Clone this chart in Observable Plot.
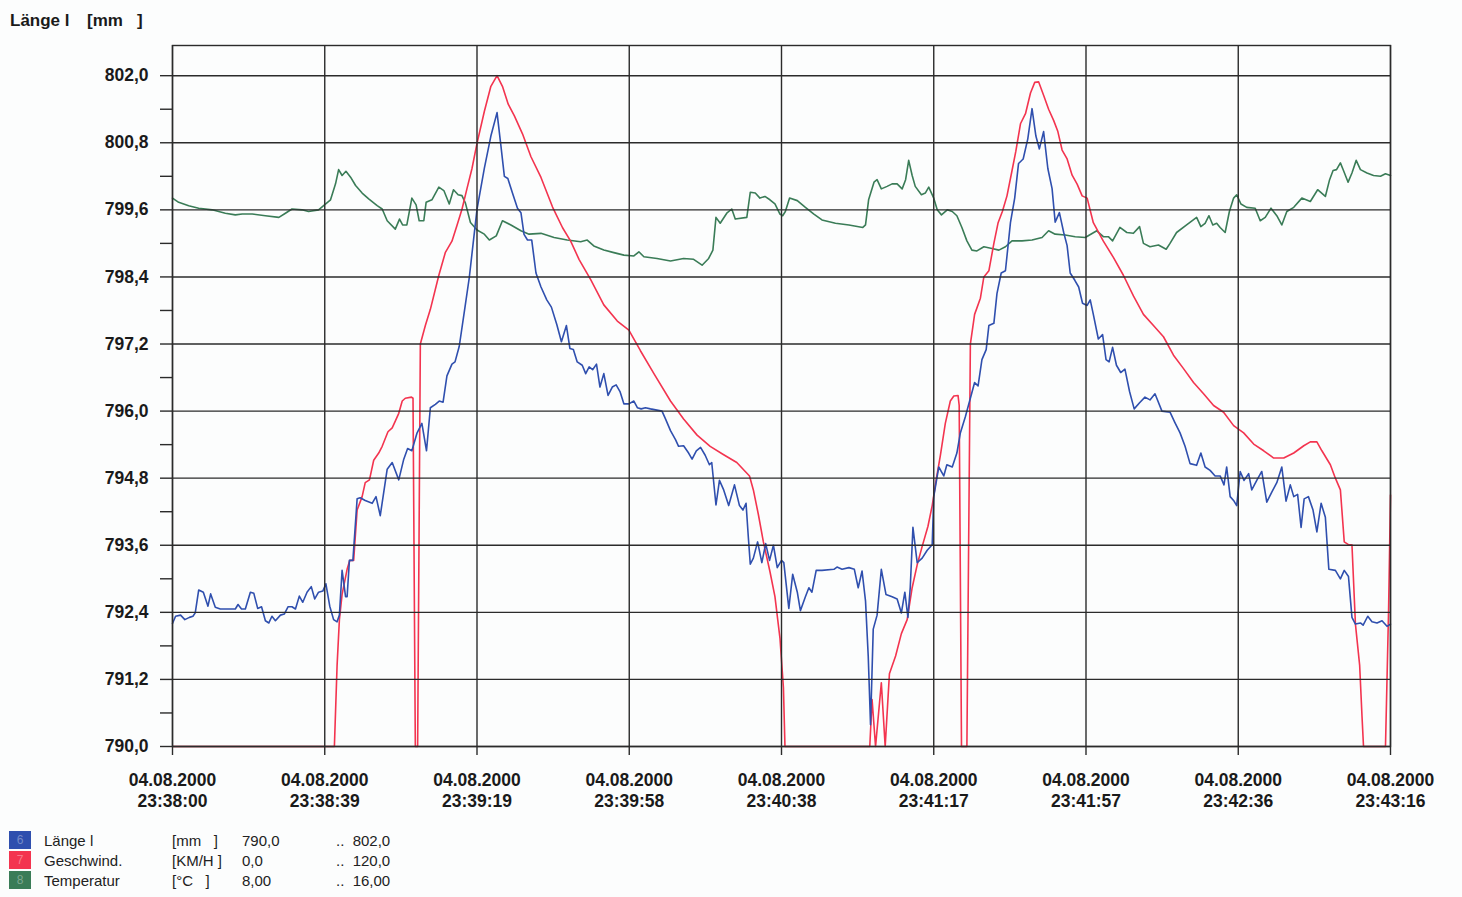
<!DOCTYPE html>
<html>
<head>
<meta charset="utf-8">
<script src="https://cdn.jsdelivr.net/npm/d3@7"></script>
<script src="https://cdn.jsdelivr.net/npm/@observablehq/plot@0.6"></script>
<style>
  body { margin: 0; background: #fcfdfd; font-family: "Liberation Sans", Arial, sans-serif; }
  #wrap { position: relative; width: 1462px; height: 897px; overflow: hidden; }
  #chart { position: absolute; left: 0; top: 0; }
  .title { position: absolute; top: 11px; font-weight: bold; font-size: 17px; color: #1a1a1a; white-space: pre; }
  .leg { position: absolute; font-size: 15px; color: #222; white-space: pre; line-height: 20px; }
  .sw { position: absolute; left: 9px; width: 22px; height: 18px; color: rgba(255,255,255,0.35); font-size: 12px; line-height: 18px; text-align: center; }
</style>
</head>
<body>
<div id="wrap">
  <div id="chart"></div>
  <div class="title" style="left:10px">Länge l</div>
  <div class="title" style="left:87px">[mm</div>
  <div class="title" style="left:137px">]</div>
  <div id="legend"></div>
</div>
<script>
// ---- axis ticks ----
const xTicks = [0, 39.5, 79, 118.5, 158, 197.5, 237, 276.5, 316];
const xDate = "04.08.2000";
const xTickLabels = ["23:38:00", "23:38:39", "23:39:19", "23:39:58", "23:40:38", "23:41:17", "23:41:57", "23:42:36", "23:43:16"];
const yTicks = [790.0, 791.2, 792.4, 793.6, 794.8, 796.0, 797.2, 798.4, 799.6, 800.8, 802.0];
const yMinorTicks = [790.6, 791.8, 793.0, 794.2, 795.4, 796.6, 797.8, 799.0, 800.2, 801.4];
const yTop = 802.54;

// ---- legend ----
const seriesNames = ["Länge l", "Geschwind.", "Temperatur"];
const seriesUnits = ["[mm   ]", "[KM/H ]", "[°C   ]"];
const seriesMinLabels = ["790,0", "0,0", "8,00"];
const seriesMaxLabels = ["802,0", "120,0", "16,00"];
const seriesMin = [790, 0, 8];
const seriesMax = [802, 120, 16];
const seriesNums = ["6", "7", "8"];
const seriesColors = ["#2f4fae", "#f3344f", "#3a7c57"];

// ---- Länge l [mm] : time in seconds after 23:38:00 ----
const lengthT = [0,0.8,2.1,3.2,4.4,5.3,5.9,6.8,8.0,9.2,9.9,11.1,12.4,16.3,17.0,17.9,18.9,20.2,21.1,22.1,23.1,24.1,25.0,25.8,26.7,28.0,29.0,30.0,31.0,31.9,32.9,33.8,34.9,36.0,36.9,37.9,39.0,39.8,40.8,41.8,42.7,43.3,44.0,44.9,45.3,45.9,46.8,47.9,48.7,50.0,51.8,52.8,53.9,55.7,57.0,58.7,60.0,61.0,62.1,63.4,64.7,65.9,66.9,68.2,69.2,70.2,71.2,72.5,73.3,74.4,75.8,77.0,79.0,80.9,82.6,84.2,85.2,86.1,87.0,88.2,89.5,90.4,91.2,92.1,93.2,94.3,95.6,97.1,98.3,99.7,100.9,102.2,103.1,104.0,105.0,106.3,107.2,108.1,109.0,110.0,110.9,111.9,113.0,114.1,115.1,116.1,117.1,118.4,119.7,120.6,121.6,122.7,124.0,127.0,127.9,129.2,130.5,131.3,132.6,133.9,134.8,135.9,137.0,138.2,139.3,139.9,141.0,141.9,143.0,144.3,145.8,147.1,148.0,148.8,149.4,149.9,150.7,151.8,152.9,153.9,154.9,155.9,156.9,158.0,158.6,159.9,160.9,162.1,162.9,164.2,165.1,165.9,167.0,168.5,171.6,172.4,173.7,175.5,176.9,177.9,178.9,179.8,180.5,181.1,181.8,182.8,183.9,185.1,186.7,188.0,189.1,190.0,190.8,191.4,192.1,193.2,194.5,195.8,197.1,197.5,198.8,200.1,200.9,202.3,203.5,204.4,205.7,207.0,208.1,209.0,210.0,211.1,211.8,213.1,213.9,215.0,216.1,217.4,218.5,219.5,220.7,221.9,223.0,224.0,224.9,226.0,227.1,228.2,229.0,230.1,231.2,232.1,232.9,234.1,235.1,236.1,237.3,238.1,238.9,240.2,241.3,242.2,243.0,243.9,244.9,246.0,247.1,248.3,249.5,250.9,252.3,253.6,254.9,256.7,258.8,260.1,261.4,262.7,264.0,265.7,266.8,267.9,269.2,270.5,271.8,272.8,273.5,274.4,275.4,276.1,277.0,278.0,279.2,280.0,281.3,282.6,283.9,285.2,286.5,287.8,288.9,290.0,290.9,291.9,292.8,293.6,294.7,295.9,296.9,298.0,299.1,300.0,301.7,303.0,304.0,305.1,306.0,306.9,308.2,308.9,310.1,311.2,312.5,313.8,315.1,316.0];
const lengthMM = [792.20,792.33,792.35,792.27,792.31,792.33,792.39,792.80,792.76,792.51,792.73,792.49,792.46,792.46,792.54,792.46,792.46,792.76,792.74,792.47,792.50,792.25,792.21,792.33,792.25,792.35,792.37,792.50,792.50,792.46,792.69,792.58,792.76,792.86,792.64,792.76,792.78,792.91,792.51,792.27,792.23,792.35,793.15,792.68,792.68,793.33,793.33,794.43,794.45,794.40,794.35,794.47,794.13,794.96,795.08,794.77,795.14,795.33,795.29,795.60,795.78,795.29,796.06,796.12,796.18,796.16,796.63,796.84,796.88,797.16,797.82,798.39,799.61,800.34,800.92,801.34,800.75,800.20,800.16,799.90,799.63,799.55,799.16,799.06,799.06,798.47,798.22,797.99,797.86,797.55,797.24,797.53,797.12,797.10,796.88,796.82,796.67,796.79,796.74,796.84,796.43,796.67,796.28,796.43,796.47,796.35,796.13,796.13,796.18,796.06,796.04,796.06,796.04,796.00,795.86,795.65,795.49,795.37,795.38,795.25,795.14,795.29,795.35,795.21,795.04,795.08,794.32,794.76,794.59,794.31,794.68,794.31,794.23,794.35,793.74,793.26,793.37,793.66,793.29,793.63,793.33,793.60,793.20,793.33,793.29,792.47,793.08,792.76,792.43,792.68,792.84,792.76,793.15,793.15,793.17,793.21,793.17,793.20,793.17,792.84,793.14,792.60,791.62,790.39,792.10,792.35,793.17,792.72,792.68,792.64,792.39,792.76,792.31,792.84,793.92,793.29,793.37,793.51,793.61,794.47,795.00,794.84,795.04,795.00,795.25,795.61,795.90,796.23,796.51,796.45,796.92,797.10,797.53,797.57,798.10,798.47,798.51,799.37,799.81,800.43,800.51,800.87,801.41,800.92,800.69,801.00,800.34,799.98,799.38,799.55,799.20,798.96,798.47,798.34,798.22,797.93,797.89,797.99,797.73,797.29,797.37,796.92,796.88,797.14,796.82,796.69,796.75,796.35,796.04,796.15,796.25,796.20,796.31,796.00,795.98,795.79,795.61,795.37,795.06,795.03,795.25,795.00,794.94,794.84,794.84,794.68,795.00,794.47,794.39,794.31,794.92,794.76,794.88,794.59,794.76,794.92,794.37,794.55,794.72,795.00,794.39,794.68,794.47,794.51,793.92,794.43,794.47,794.23,793.84,794.35,794.10,793.17,793.15,793.00,793.15,793.04,792.31,792.19,792.21,792.17,792.33,792.23,792.21,792.25,792.15,792.19];

// ---- Geschwind. [KM/H] ----
const speedT = [0,42.0,42.7,43.3,44.0,45.3,46.0,47.0,47.9,49.2,50.0,51.1,52.2,53.5,54.4,55.9,57.0,57.8,58.7,59.6,60.4,62.0,62.4,63.0,63.6,64.3,65.6,66.9,69.1,70.8,72.5,73.8,75.1,76.4,77.7,79.0,80.9,82.6,84.2,85.6,87.1,88.7,90.8,93.0,95.6,98.6,101.2,103.3,105.5,108.5,111.9,115.4,118.4,121.4,124.9,129.2,132.6,136.1,139.5,143.0,146.4,149.7,150.7,152.0,153.3,155.0,156.3,157.6,158.5,158.9,180.9,181.5,182.4,183.9,184.9,186.0,187.6,189.1,190.6,191.9,193.2,194.5,196.0,197.1,198.1,199.2,200.5,201.8,202.7,203.8,204.1,204.7,206.1,207.0,208.1,209.6,210.5,211.8,213.1,214.2,215.3,216.5,217.8,218.8,220.0,221.3,222.6,223.7,224.7,226.0,227.3,228.6,229.7,230.8,232.1,233.4,234.7,236.0,237.3,238.9,241.5,244.1,246.7,249.3,251.9,254.5,257.1,259.7,262.3,264.9,267.5,270.1,272.7,275.3,277.9,280.5,283.1,285.7,288.3,290.9,293.5,295.2,296.9,298.2,300.4,301.7,303.0,304.0,305.1,306.0,306.9,308.0,308.6,309.0,314.7,315.5,316.0];
const speedKmh = [0,0,14.5,22.7,27.2,31.7,33.3,33.3,42.3,44.7,47.2,47.7,51.2,52.5,53.7,56.3,57.0,58.2,59.6,61.8,62.3,62.5,62.3,0,0,72.0,75.3,78.2,84.3,88.4,90.4,93.2,96.1,99.8,103.4,107.9,113.6,118.1,120.0,118.1,114.9,112.8,109.6,105.5,101.8,96.5,92.8,90.4,87.1,83.5,79.0,76.1,74.5,70.8,66.7,61.8,58.6,55.7,53.7,52.2,50.8,48.4,45.9,41.5,36.6,31.3,26.8,19.4,10.5,0,0,8.4,0,11.4,0,13.0,16.2,20.2,22.7,28.4,32.5,35.8,39.4,43.1,47.6,52.0,57.8,61.8,62.7,62.8,61.0,0,0,72.0,77.3,80.2,84.0,85.1,90.0,93.7,95.7,98.5,103.0,106.5,111.4,113.2,116.9,118.8,118.9,116.5,114.0,112.0,110.0,106.7,105.1,102.2,100.6,98.5,98.1,93.7,90.4,87.5,84.3,80.6,77.3,75.3,73.3,70.0,67.6,65.1,63.1,61.0,59.8,57.4,56.1,54.1,52.9,51.6,51.6,52.5,53.8,54.5,54.5,52.9,50.4,48.0,45.9,36.6,36.1,36.1,21.9,14.5,5.5,0,0,24.3,45.0];

// ---- Temperatur [°C] ----
const tempT = [0,1.6,4.2,6.8,10.3,13.7,16.3,18.1,20.7,24.1,27.6,29.3,31.0,33.6,35.3,37.9,39.2,41.0,42.3,43.1,44.0,45.0,46.2,47.5,49.2,50.9,53.1,54.4,55.7,57.8,58.9,59.7,60.8,62.1,63.2,64.0,65.2,65.8,67.3,69.1,70.4,71.8,72.9,74.1,75.1,76.0,77.3,79.0,80.9,82.2,84.0,85.6,87.8,90.4,92.5,95.6,99.0,102.4,105.9,107.6,109.3,111.9,114.5,117.1,119.7,121.0,122.3,125.7,129.2,132.6,135.2,137.4,139.1,140.2,141.0,142.1,143.8,145.1,146.0,149.0,149.9,151.2,152.4,153.7,155.0,156.3,157.6,158.3,159.0,160.1,162.1,164.2,166.4,168.5,172.0,175.5,179.1,179.8,180.6,182.0,182.8,183.9,185.4,186.7,188.0,189.3,190.2,191.0,191.9,192.7,194.3,195.3,196.2,197.5,198.4,199.5,201.0,202.3,203.5,204.8,206.1,207.4,208.7,210.5,212.6,214.4,216.1,217.8,220.4,223.0,225.6,227.3,229.0,231.6,234.2,236.8,239.8,241.5,242.8,243.9,245.8,247.6,249.3,250.9,251.9,253.6,255.8,257.8,258.8,260.5,263.1,265.7,266.8,267.9,268.9,269.9,270.9,271.8,273.1,274.2,275.3,276.1,277.2,278.7,280.9,282.2,283.5,285.0,286.5,287.8,289.1,290.9,293.0,295.2,297.1,299.1,300.2,301.1,302.0,303.0,303.8,305.0,306.0,307.1,308.2,309.9,311.6,313.4,314.7,316.0];
const tempC = [14.54,14.49,14.45,14.42,14.40,14.36,14.34,14.35,14.35,14.33,14.31,14.36,14.41,14.40,14.38,14.40,14.45,14.52,14.71,14.88,14.81,14.86,14.79,14.69,14.60,14.53,14.45,14.41,14.27,14.17,14.29,14.22,14.22,14.54,14.46,14.27,14.27,14.49,14.52,14.67,14.63,14.47,14.64,14.58,14.57,14.48,14.25,14.16,14.11,14.04,14.09,14.27,14.22,14.15,14.11,14.12,14.07,14.04,14.02,14.04,13.97,13.92,13.89,13.86,13.85,13.90,13.84,13.82,13.79,13.82,13.81,13.74,13.82,13.92,14.31,14.24,14.36,14.41,14.29,14.31,14.61,14.60,14.54,14.56,14.52,14.47,14.35,14.33,14.38,14.54,14.51,14.43,14.35,14.28,14.24,14.22,14.19,14.22,14.52,14.73,14.76,14.65,14.68,14.71,14.71,14.65,14.76,14.99,14.81,14.68,14.58,14.60,14.67,14.54,14.40,14.34,14.40,14.38,14.33,14.19,14.03,13.92,13.91,13.96,13.94,13.92,13.96,14.03,14.03,14.04,14.07,14.15,14.11,14.10,14.08,14.07,14.15,14.08,14.08,14.03,14.19,14.13,14.12,14.20,14.00,13.96,13.98,13.93,14.00,14.13,14.22,14.31,14.20,14.24,14.33,14.22,14.24,14.19,14.13,14.38,14.54,14.58,14.47,14.43,14.42,14.27,14.31,14.42,14.33,14.22,14.38,14.43,14.54,14.50,14.64,14.56,14.76,14.87,14.88,14.96,14.87,14.73,14.84,14.99,14.88,14.84,14.81,14.80,14.83,14.81];

// map each series onto the shared chart scale (legend ranges)
function toChart(v, k) {
  return seriesMin[0] + (v - seriesMin[k]) / (seriesMax[k] - seriesMin[k]) * (seriesMax[0] - seriesMin[0]);
}
const lengthData = lengthT.map((t, i) => ({t, y: toChart(lengthMM[i], 0)}));
const speedData = speedT.map((t, i) => ({t, y: toChart(speedKmh[i], 1)}));
const tempData = tempT.map((t, i) => ({t, y: toChart(tempC[i], 2)}));

const gridColor = "#2b2b2b";
const font = "'Liberation Sans', Arial, sans-serif";

const chart = Plot.plot({
  width: 1462,
  height: 830,
  marginLeft: 172,
  marginRight: 72,
  marginTop: 45,
  marginBottom: 84,
  style: { background: "transparent", color: "#1a1a1a", fontFamily: font, overflow: "visible" },
  x: { domain: [0, 316], label: null },
  y: { domain: [790, yTop], label: null },
  marks: [
    Plot.line(tempData, {x: "t", y: "y", stroke: seriesColors[2], strokeWidth: 1.6}),
    Plot.line(speedData, {x: "t", y: "y", stroke: seriesColors[1], strokeWidth: 1.6}),
    Plot.line(lengthData, {x: "t", y: "y", stroke: seriesColors[0], strokeWidth: 1.6}),
    Plot.gridY(yTicks, {stroke: gridColor, strokeOpacity: 1, strokeWidth: 1.4}),
    Plot.gridX(xTicks, {stroke: gridColor, strokeOpacity: 1, strokeWidth: 1.4}),
    Plot.frame({stroke: gridColor, strokeWidth: 1.4}),
    Plot.axisY(yMinorTicks, {tickSize: 12, tickFormat: () => "", stroke: gridColor, strokeWidth: 1.4, label: null}),
    Plot.axisY(yTicks, {tickSize: 12, tickPadding: 12, stroke: gridColor, strokeWidth: 1.4,
      tickFormat: d => d.toFixed(1).replace(".", ","), fontSize: 17.5, fontWeight: "bold", label: null}),
    Plot.axisX(xTicks, {tickSize: 9, tickPadding: 16, stroke: gridColor, strokeWidth: 1.4,
      tickFormat: d => xDate + "\n" + xTickLabels[xTicks.indexOf(d)], fontSize: 17.5, fontWeight: "bold",
      lineHeight: 1.2, label: null})
  ]
});
document.getElementById("chart").appendChild(chart);

// legend
const legend = document.getElementById("legend");
const cols = [44, 172, 242, 336];
seriesNames.forEach((name, i) => {
  const top = 831 + i * 20;
  const sw = document.createElement("div");
  sw.className = "sw";
  sw.style.top = top + "px";
  sw.style.background = seriesColors[i];
  sw.textContent = seriesNums[i];
  legend.appendChild(sw);
  const texts = [name, seriesUnits[i], seriesMinLabels[i], "..  " + seriesMaxLabels[i]];
  texts.forEach((txt, j) => {
    const s = document.createElement("div");
    s.className = "leg";
    s.style.left = cols[j] + "px";
    s.style.top = (top) + "px";
    s.textContent = txt;
    legend.appendChild(s);
  });
});
</script>
</body>
</html>
